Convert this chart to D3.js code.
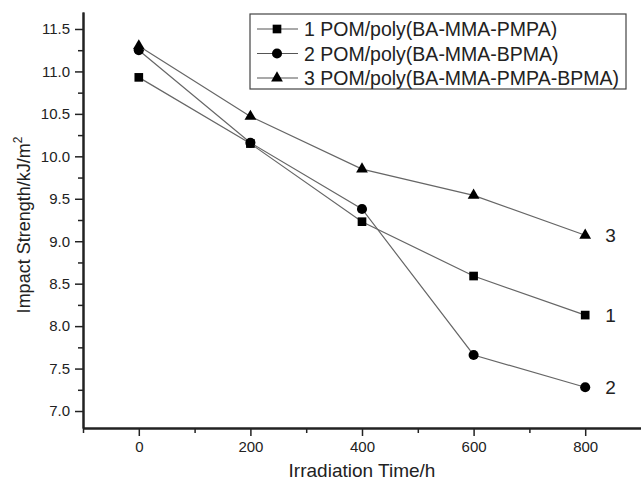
<!DOCTYPE html>
<html>
<head>
<meta charset="utf-8">
<script src="https://cdn.jsdelivr.net/npm/d3@7/dist/d3.min.js"></script>
<style>
  body { margin: 0; background: #fff; }
  text { font-family: Arial, "Liberation Sans", sans-serif; fill: #222; }
</style>
</head>
<body>
<div id="chart"></div>
<script>
// ---------------------------------------------------------------------------
// Data

const hours = [0, 200, 400, 600, 800];
const series1 = [10.93, 10.15, 9.23, 8.59, 8.13];
const series2 = [11.25, 10.16, 9.38, 7.66, 7.28];
const series3 = [11.30, 10.47, 9.85, 9.54, 9.07];
const seriesNames = [
  '1 POM/poly(BA-MMA-PMPA)',
  '2 POM/poly(BA-MMA-BPMA)',
  '3 POM/poly(BA-MMA-PMPA-BPMA)'
];
const endLabels = ['1', '2', '3'];
const xTicks = [0, 200, 400, 600, 800];
const yTicks = [7.0, 7.5, 8.0, 8.5, 9.0, 9.5, 10.0, 10.5, 11.0, 11.5];

// ---------------------------------------------------------------------------
// Layout

const width = 641, height = 482;
const margin = {top: 12, right: 0, bottom: 54, left: 83};

const svg = d3.select('#chart').append('svg')
  .attr('width', width)
  .attr('height', height);

const x = d3.scaleLinear().domain([-100, 900]).range([margin.left, width - margin.right]);
const y = d3.scaleLinear().domain([6.8, 11.7]).range([height - margin.bottom, margin.top]);

// axes
const xAxis = svg.append('g')
  .attr('transform', `translate(0,${height - margin.bottom})`)
  .call(d3.axisBottom(x).tickValues(xTicks).tickSize(8).tickPadding(5).tickSizeOuter(0));
const xMinor = svg.append('g')
  .attr('transform', `translate(0,${height - margin.bottom})`)
  .call(d3.axisBottom(x).tickValues([-100, 100, 300, 500, 700]).tickSize(5).tickFormat('').tickSizeOuter(0));

const yAxis = svg.append('g')
  .attr('transform', `translate(${margin.left},0)`)
  .call(d3.axisLeft(y).tickValues(yTicks).tickFormat(d3.format('.1f')).tickSize(8).tickPadding(5).tickSizeOuter(0));
const yMinor = svg.append('g')
  .attr('transform', `translate(${margin.left},0)`)
  .call(d3.axisLeft(y).tickValues(d3.range(7.25, 11.7, 0.5)).tickSize(5).tickFormat('').tickSizeOuter(0));

[xAxis, xMinor, yAxis, yMinor].forEach(function(g) {
  g.select('.domain').attr('stroke', '#222').attr('stroke-width', 2);
  g.selectAll('.tick line').attr('stroke', '#222').attr('stroke-width', 1.5);
  g.selectAll('.tick text').style('font-size', '15px').attr('fill', '#222');
});

// axis titles
svg.append('text')
  .attr('x', (margin.left + width) / 2)
  .attr('y', 477)
  .attr('text-anchor', 'middle')
  .style('font-size', '19px')
  .text('Irradiation Time/h');

const yTitle = svg.append('text')
  .attr('transform', 'translate(30,225) rotate(-90)')
  .attr('text-anchor', 'middle')
  .style('font-size', '18px');
yTitle.append('tspan').text('Impact Strength/kJ/m');
yTitle.append('tspan').attr('dy', -8).style('font-size', '12px').text('2');

// ---------------------------------------------------------------------------
// Series

const symbols = [d3.symbolSquare, d3.symbolCircle, d3.symbolTriangle];
const symbolSizes = [75, 80, 60];
const allSeries = [series1, series2, series3];

const line = d3.line()
  .x(function(d, i) { return x(hours[i]); })
  .y(function(d) { return y(d); });

allSeries.forEach(function(values, s) {
  svg.append('path')
    .datum(values)
    .attr('fill', 'none')
    .attr('stroke', '#666')
    .attr('stroke-width', 1.2)
    .attr('d', line);

  svg.selectAll(null)
    .data(values)
    .enter()
    .append('path')
    .attr('transform', function(d, i) { return `translate(${x(hours[i])},${y(d)})`; })
    .attr('d', d3.symbol().type(symbols[s]).size(symbolSizes[s]))
    .attr('fill', '#000');

  const last = values.length - 1;
  svg.append('text')
    .attr('x', x(hours[last]) + 20)
    .attr('y', y(values[last]) + 7)
    .style('font-size', '19px')
    .text(endLabels[s]);
});

// ---------------------------------------------------------------------------
// Legend

const legend = svg.append('g').attr('transform', 'translate(250,14)');
legend.append('rect')
  .attr('width', 376)
  .attr('height', 75)
  .attr('fill', '#fff')
  .attr('stroke', '#444')
  .attr('stroke-width', 1.2);

seriesNames.forEach(function(name, s) {
  const row = legend.append('g').attr('transform', `translate(0,${15 + s * 24.5})`);
  row.append('line')
    .attr('x1', 7).attr('x2', 48)
    .attr('stroke', '#555').attr('stroke-width', 1.2);
  row.append('path')
    .attr('transform', 'translate(27,0)')
    .attr('d', d3.symbol().type(symbols[s]).size(symbolSizes[s]))
    .attr('fill', '#000');
  row.append('text')
    .attr('x', 54)
    .attr('y', 7)
    .style('font-size', '19.5px')
    .text(name);
});
</script>
</body>
</html>
